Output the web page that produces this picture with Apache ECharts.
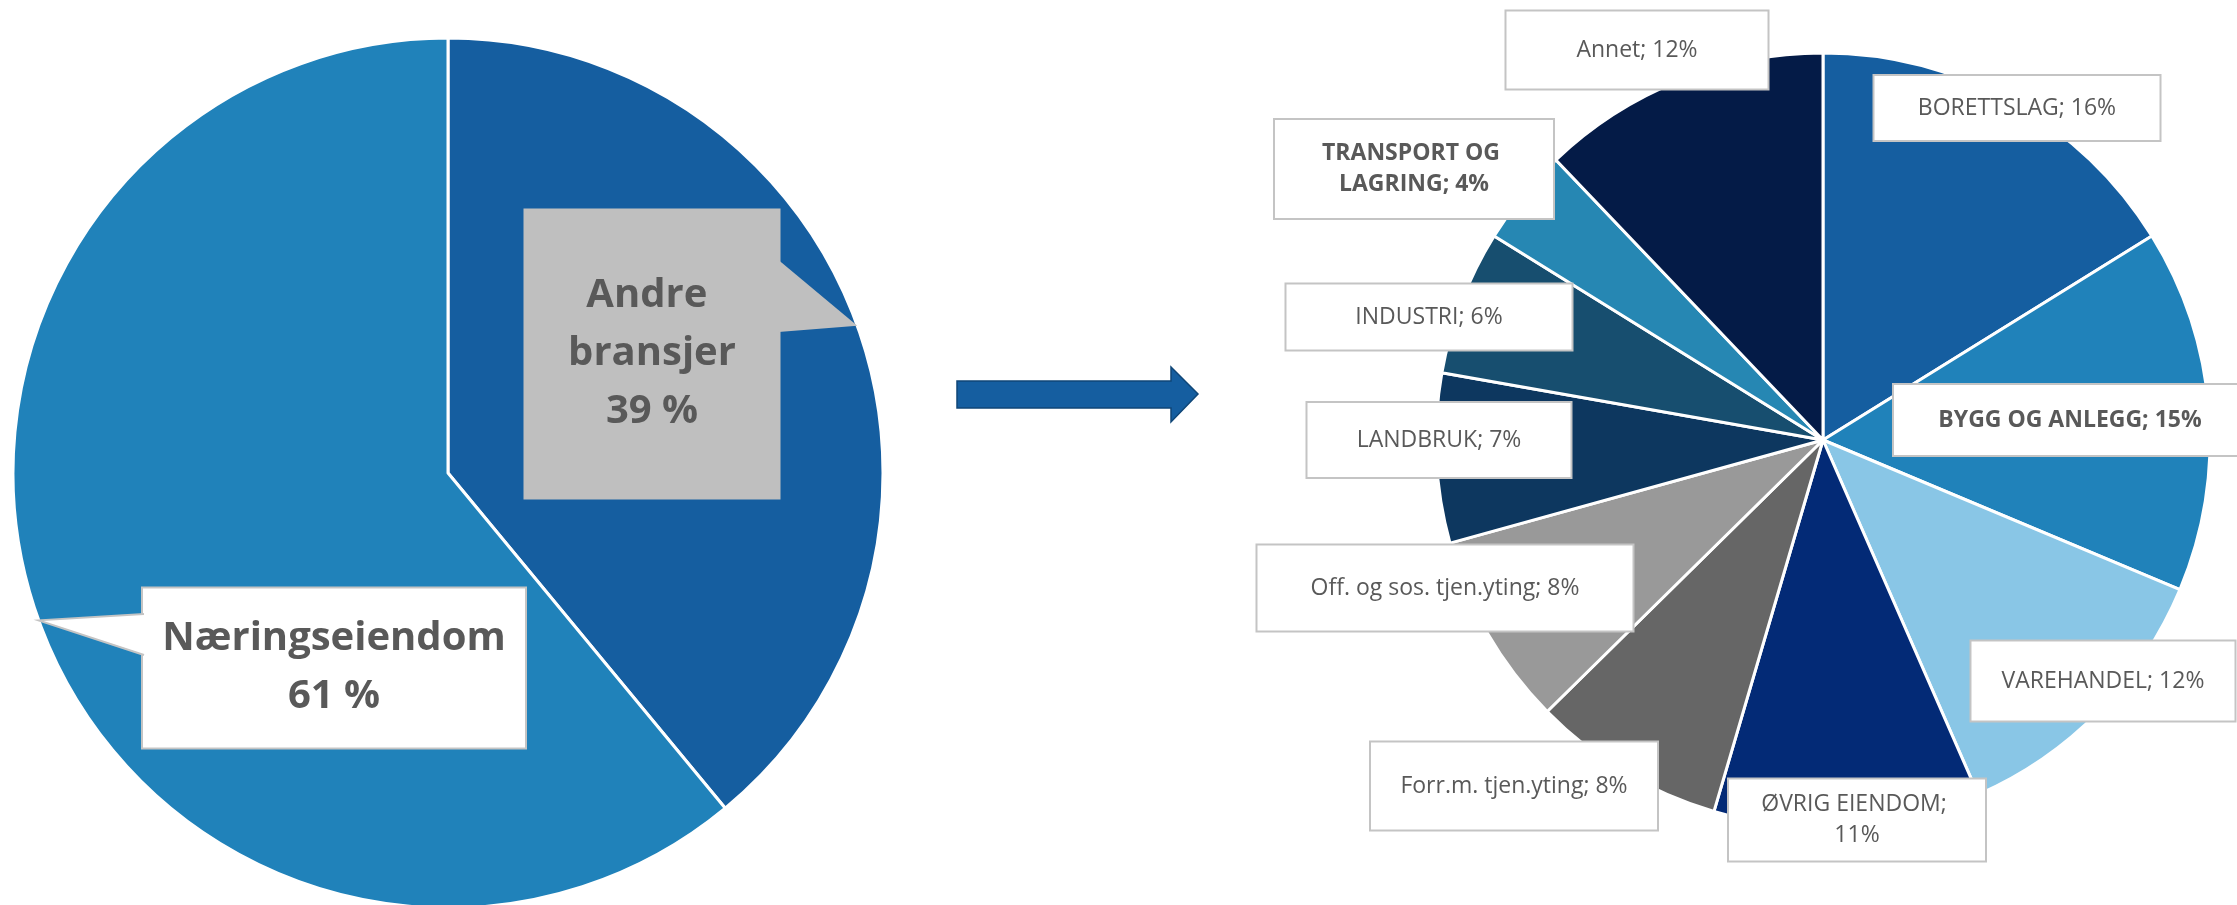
<!DOCTYPE html>
<html>
<head>
<meta charset="utf-8">
<script src="https://cdn.jsdelivr.net/npm/echarts@6/dist/echarts.min.js"></script>
<style>
  html, body { margin: 0; padding: 0; background: #ffffff; }
  #chart { width: 2237px; height: 905px; }
</style>
</head>
<body>
<div id="chart"></div>
<script>
// Overview: commercial property versus all other industries
const overviewNames = ['Andre bransjer', 'Næringseiendom'];
const overviewValues = [39, 61];
const overviewColors = ['#155EA0', '#2082BA'];

// Breakdown of the other industries (clockwise from twelve o'clock)
const sectorNames = [
  'BORETTSLAG', 'BYGG OG ANLEGG', 'VAREHANDEL', 'ØVRIG EIENDOM',
  'Forr.m. tjen.yting', 'Off. og sos. tjen.yting', 'LANDBRUK',
  'INDUSTRI', 'TRANSPORT OG LAGRING', 'Annet'
];
const sectorValues = [16, 15, 12, 11, 8, 8, 7, 6, 4, 12];
const sectorColors = [
  '#155EA0', '#2082BA', '#89C6E6', '#032A76', '#666666',
  '#999999', '#0D375F', '#174E6F', '#2687B3', '#041B47'
];
const sectorBold = [false, true, false, false, false, false, false, false, true, false];

// Label boxes: centre x, centre y, width, height, text lines, side padding, text nudge down
const overviewBoxes = [
  [652, 354, 257, 291, 3, 28, 8],
  [334, 668, 382, 159, 2, 10, 4]
];
// Callout pointer bases: box side, offsets from box centre along that side
const overviewPointers = [
  ['right', -94, -22],
  ['left', -54, -13]
];
const sectorBoxes = [
  [2017, 108, 285, 64, 1, 10, 0],
  [2070, 420, 352, 70, 1, 10, 0],
  [2103, 681, 263, 79, 1, 10, 0],
  [1857, 820, 256, 81, 2, 24, 0],
  [1514, 786, 286, 87, 1, 10, 0],
  [1445, 588, 375, 85, 1, 10, 0],
  [1439, 440, 263, 74, 1, 10, 0],
  [1429, 317, 285, 65, 1, 10, 0],
  [1414, 169, 278, 98, 2, 24, 0],
  [1637, 50, 261, 77, 1, 10, 0]
];

const TEXT = '#595959';
const FONT = '"Open Sans", "Noto Sans", sans-serif';

function boxLabel(box, size, lineHeight, bold, bg, border) {
  const [, , w, h, lines, padX, nudge] = box;
  const padY = (h - lines * lineHeight) / 2;
  return {
    show: true,
    width: w - 2 * padX,
    // only the multi-line boxes wrap; single-line boxes keep their text whole
    overflow: lines > 1 ? 'break' : 'none',
    padding: [padY + nudge, padX, padY - nudge, padX],
    backgroundColor: bg,
    borderColor: border || 'transparent',
    borderWidth: border ? 2 : 0,
    fontSize: size,
    lineHeight: lineHeight,
    fontWeight: bold ? 'bold' : 'normal',
    fontFamily: FONT,
    color: TEXT,
    align: 'center'
  };
}

const chart = echarts.init(document.getElementById('chart'), null, { renderer: 'canvas' });

// Block arrow between the two pies
const arrow = {
  type: 'polygon',
  z: 50,
  shape: {
    points: [[957, 381], [1171, 381], [1171, 367], [1198, 394],
             [1171, 422], [1171, 408], [957, 408]]
  },
  style: { fill: '#155EA0', stroke: '#0F4677', lineWidth: 1.5 }
};

function draw() {
  const overviewData = overviewNames.map((name, i) => ({
    name: name,
    value: overviewValues[i],
    itemStyle: { color: overviewColors[i] },
    // first line breaks inside the name: "Andre / bransjer"
    label: boxLabel(overviewBoxes[i], 40, 58, true,
      i === 0 ? '#BFBFBF' : '#FFFFFF', i === 0 ? null : '#C4C4C4')
  }));

  const sectorData = sectorNames.map((name, i) => ({
    name: name,
    value: sectorValues[i],
    itemStyle: { color: sectorColors[i] },
    label: boxLabel(sectorBoxes[i], 23, 31, sectorBold[i], '#FFFFFF', '#C4C4C4')
  }));

  chart.setOption({
    animation: false,
    backgroundColor: '#ffffff',
    series: [
      {
        type: 'pie',
        center: [448, 473],
        radius: 435,
        startAngle: 90,
        clockwise: true,
        silent: true,
        itemStyle: { borderColor: '#ffffff', borderWidth: 3 },
        label: { position: 'inside', formatter: '{b}\n{c} %' },
        labelLine: { show: false },
        labelLayout: p => {
          const b = overviewBoxes[p.dataIndex];
          return { x: b[0], y: b[1], align: 'center', verticalAlign: 'middle' };
        },
        data: overviewData
      },
      {
        type: 'pie',
        center: [1823, 440],
        radius: 387,
        startAngle: 90,
        clockwise: true,
        silent: true,
        itemStyle: { borderColor: '#ffffff', borderWidth: 3 },
        label: { position: 'inside', formatter: '{b}; {c}%' },
        labelLine: { show: false },
        labelLayout: p => {
          const b = sectorBoxes[p.dataIndex];
          return { x: b[0], y: b[1], align: 'center', verticalAlign: 'middle' };
        },
        data: sectorData
      }
    ],
    graphic: [arrow]
  }, true);

  // Callout pointers from the overview labels to the middle of each slice's rim
  const overviewLayout = chart.getModel().getSeriesByIndex(0).getData();
  const pointers = [];
  overviewNames.forEach((name, i) => {
    const lay = overviewLayout.getItemLayout(i);
    const mid = (lay.startAngle + lay.endAngle) / 2;
    const tip = [lay.cx + lay.r * Math.cos(mid), lay.cy + lay.r * Math.sin(mid)];
    const [cx, cy, w] = overviewBoxes[i];
    const [side, o1, o2] = overviewPointers[i];
    const bx = side === 'right' ? cx + w / 2 - 2 : cx - w / 2 + 2;
    const fill = i === 0 ? '#BFBFBF' : '#FFFFFF';
    pointers.push({
      type: 'polygon', z: 100,
      shape: { points: [[bx, cy + o1], tip, [bx, cy + o2]] },
      style: { fill: fill, stroke: null }
    });
    if (i !== 0) {
      pointers.push({
        type: 'polyline', z: 101,
        shape: { points: [[bx - 1, cy + o1], tip, [bx - 1, cy + o2]] },
        style: { stroke: '#C4C4C4', lineWidth: 2, fill: null }
      });
    }
  });
  chart.setOption({ graphic: [arrow].concat(pointers) });
}

draw();
// redraw once the label fonts are available so text measurement is exact
if (document.fonts && document.fonts.load) {
  Promise.all([
    document.fonts.load('23px "Open Sans"'),
    document.fonts.load('bold 40px "Open Sans"')
  ]).then(draw, draw);
}
</script>
</body>
</html>
